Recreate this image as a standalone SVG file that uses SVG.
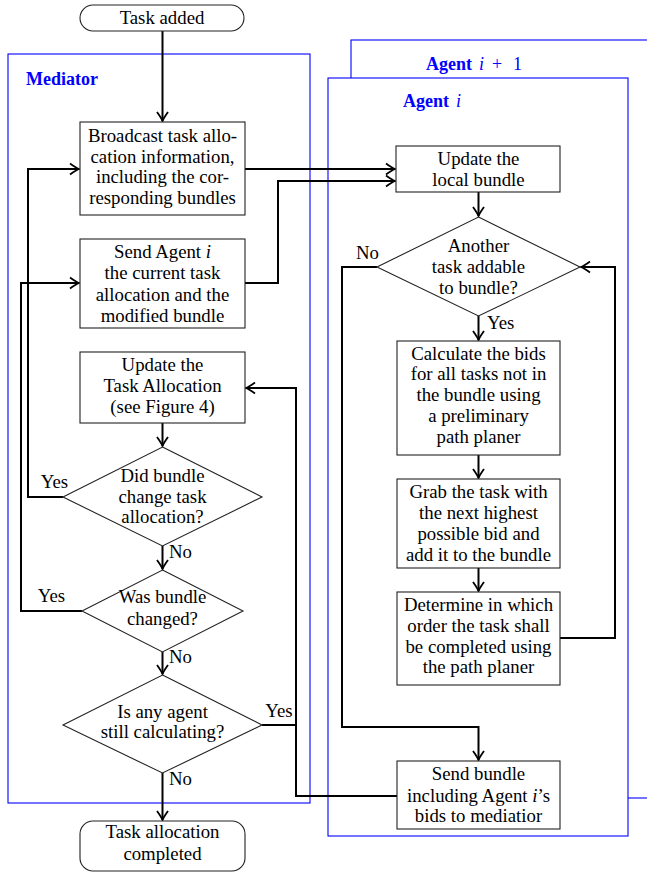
<svg xmlns="http://www.w3.org/2000/svg" width="647" height="876" viewBox="0 0 647 876">
<style>
text{font-family:'Liberation Serif','DejaVu Serif',serif;font-size:18.8px}
.t{fill:#000;text-anchor:middle}
.l{fill:#000}
.b{fill:#fff;stroke:#222;stroke-width:1.1}
.g{fill:none;stroke:#0000ff;stroke-width:1.1}
.h{fill:#0000ff;font-weight:bold;font-size:18px}
.i{font-style:italic;font-weight:normal}
.c{fill:none;stroke:#000;stroke-width:2;marker-end:url(#a)}
.n{fill:none;stroke:#000;stroke-width:2}
</style>
<defs>
<marker id="a" markerUnits="userSpaceOnUse" viewBox="-11 -7 13 14" refX="0" refY="0" markerWidth="13" markerHeight="14" orient="auto">
<path d="M-9,-5.5 Q-3,-1.2 0,0 Q-3,1.2 -9,5.5" fill="none" stroke="#000" stroke-width="1.8"/>
</marker>
</defs>
<g id="groups">
<rect class="g" x="351" y="40" width="320" height="758"/>
<rect x="328" y="78" width="300" height="758" fill="#fff" stroke="#0000ff" stroke-width="1.1"/>
<rect class="g" x="8" y="54" width="302" height="749"/>
<text class="h" x="426" y="70">Agent<tspan class="i" x="479">i</tspan><tspan font-weight="normal" x="492">+</tspan><tspan font-weight="normal" x="513">1</tspan></text>
<text class="h" x="403" y="107">Agent<tspan class="i" x="456">i</tspan></text>
<text class="h" x="26" y="85">Mediator</text>
</g>
<g id="connectors">
<path class="c" d="M162.5,31 V121"/>
<path class="c" d="M245,169 H395"/>
<path class="c" d="M245,283 H278 V181 H395"/>
<path class="c" d="M162.5,423 V446"/>
<path class="c" d="M63,497 H28 V169 H79"/>
<path class="c" d="M162.5,546 V569"/>
<path class="c" d="M82,611 H21 V283 H79"/>
<path class="c" d="M162.5,652 V674"/>
<path class="c" d="M162.5,773 V820"/>
<path class="n" d="M262,725 H296"/>
<path class="c" d="M397,796 H296 V388 H246"/>
<path class="c" d="M478.5,192 V216"/>
<path class="c" d="M478.5,316 V340"/>
<path class="c" d="M377,267 H342 V727 H478.5 V760"/>
<path class="c" d="M478.5,455 V478"/>
<path class="c" d="M478.5,568 V591"/>
<path class="c" d="M560,638 H615 V267 H581"/>
<text class="t" x="54.5" y="488">Yes</text>
<text class="t" x="51.5" y="602">Yes</text>
<text class="l" x="169" y="558">No</text>
<text class="l" x="169" y="663">No</text>
<text class="l" x="169" y="785">No</text>
<text class="t" x="279" y="717">Yes</text>
<text class="t" x="367.5" y="259">No</text>
<text class="l" x="487" y="329">Yes</text>
</g>
<g id="start">
<rect class="b" x="80" y="5" width="164" height="26" rx="13"/>
<text class="t" x="162" y="24">Task added</text>
</g>
<g id="broadcast">
<rect class="b" x="80" y="122" width="165" height="93"/>
<text class="t" x="162.5" y="142">Broadcast task allo-</text>
<text class="t" x="162.5" y="163">cation information,</text>
<text class="t" x="162.5" y="183">including the cor-</text>
<text class="t" x="162.5" y="204">responding bundles</text>
</g>
<g id="sendAgent">
<rect class="b" x="80" y="239" width="165" height="89"/>
<text class="t" x="162.5" y="258">Send Agent <tspan font-style="italic">i</tspan></text>
<text class="t" x="162.5" y="279">the current task</text>
<text class="t" x="162.5" y="301">allocation and the</text>
<text class="t" x="162.5" y="322">modified bundle</text>
</g>
<g id="updateTA">
<rect class="b" x="80" y="352" width="165" height="71"/>
<text class="t" x="162.5" y="371">Update the</text>
<text class="t" x="162.5" y="392">Task Allocation</text>
<text class="t" x="162.5" y="413">(see Figure 4)</text>
</g>
<g id="d1">
<polygon class="b" points="162.5,447 262,497 162.5,546 63,497"/>
<text class="t" x="162.5" y="482">Did bundle</text>
<text class="t" x="162.5" y="503">change task</text>
<text class="t" x="162.5" y="523">allocation?</text>
</g>
<g id="d2">
<polygon class="b" points="162.5,570 243,611 162.5,652 82,611"/>
<text class="t" x="162.5" y="603">Was bundle</text>
<text class="t" x="162.5" y="625">changed?</text>
</g>
<g id="d3">
<polygon class="b" points="162.5,675 262,725 162.5,773 63,725"/>
<text class="t" x="162.5" y="718">Is any agent</text>
<text class="t" x="162.5" y="738">still calculating?</text>
</g>
<g id="end">
<rect class="b" x="80" y="821" width="165" height="50" rx="13"/>
<text class="t" x="162.5" y="838">Task allocation</text>
<text class="t" x="162.5" y="860">completed</text>
</g>
<g id="updateLocal">
<rect class="b" x="396" y="146" width="164" height="46"/>
<text class="t" x="478.5" y="165">Update the</text>
<text class="t" x="478.5" y="186">local bundle</text>
</g>
<g id="d4">
<polygon class="b" points="478.5,217 580,267 478.5,316 377,267"/>
<text class="t" x="478.5" y="252">Another</text>
<text class="t" x="478.5" y="273">task addable</text>
<text class="t" x="478.5" y="294">to bundle?</text>
</g>
<g id="calc">
<rect class="b" x="397" y="341" width="163" height="114"/>
<text class="t" x="478.5" y="360">Calculate the bids</text>
<text class="t" x="478.5" y="380">for all tasks not in</text>
<text class="t" x="478.5" y="401">the bundle using</text>
<text class="t" x="478.5" y="422">a preliminary</text>
<text class="t" x="478.5" y="443">path planer</text>
</g>
<g id="grab">
<rect class="b" x="397" y="479" width="163" height="89"/>
<text class="t" x="478.5" y="498">Grab the task with</text>
<text class="t" x="478.5" y="519">the next highest</text>
<text class="t" x="478.5" y="540">possible bid and</text>
<text class="t" x="478.5" y="561">add it to the bundle</text>
</g>
<g id="determine">
<rect class="b" x="397" y="592" width="163" height="93"/>
<text class="t" x="478.5" y="611">Determine in which</text>
<text class="t" x="478.5" y="632">order the task shall</text>
<text class="t" x="478.5" y="653">be completed using</text>
<text class="t" x="478.5" y="673">the path planer</text>
</g>
<g id="sendBundle">
<rect class="b" x="397" y="761" width="163" height="68"/>
<text class="t" x="478.5" y="780">Send bundle</text>
<text class="t" x="478.5" y="802">including Agent <tspan font-style="italic">i</tspan>’s</text>
<text class="t" x="478.5" y="822">bids to mediatior</text>
</g>
</svg>
